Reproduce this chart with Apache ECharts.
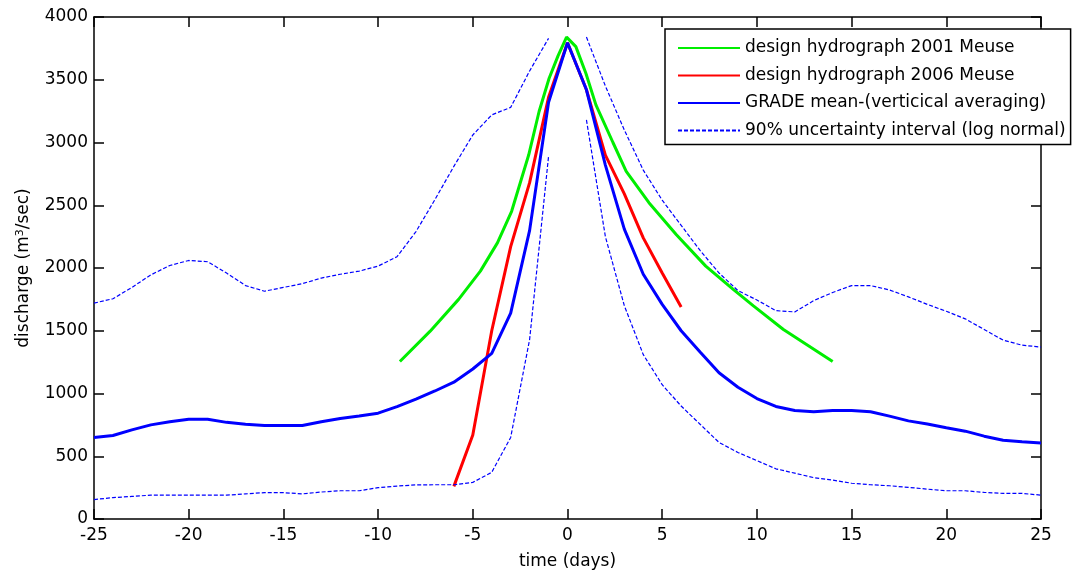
<!DOCTYPE html>
<html>
<head>
<meta charset="utf-8">
<script src="https://cdn.jsdelivr.net/npm/echarts@6/dist/echarts.min.js"></script>
<style>html,body{margin:0;padding:0;background:#fff}#c{width:1075px;height:575px}</style>
</head>
<body>
<div id="c"></div>
<script>
// ---- data ----
var days = [-25,-24,-23,-22,-21,-20,-19,-18,-17,-16,-15,-14,-13,-12,-11,-10,-9,-8,-7,-6,-5,-4,-3,-2,-1,0,1,2,3,4,5,6,7,8,9,10,11,12,13,14,15,16,17,18,19,20,21,22,23,24,25];
var gradeMean = [650,665,710,750,775,795,795,770,755,745,745,745,775,800,820,843,895,955,1020,1090,1195,1320,1640,2300,3320,3795,3420,2820,2310,1950,1710,1500,1330,1165,1050,960,897,865,855,865,865,855,820,782,757,727,700,660,627,615,605];
var upper90 = [1720,1755,1845,1945,2020,2060,2050,1960,1860,1815,1845,1875,1920,1950,1975,2015,2090,2290,2545,2810,3060,3220,3280,3570,3830,null,3840,3450,3100,2780,2540,2340,2140,1960,1820,1745,1660,1650,1740,1805,1860,1860,1825,1770,1710,1655,1595,1510,1425,1385,1370];
var lower90 = [155,170,180,190,190,190,190,190,200,210,210,200,215,225,225,250,262,272,273,273,292,372,650,1430,2890,null,3180,2250,1700,1310,1070,900,755,610,530,465,400,365,330,310,285,273,265,252,238,225,225,212,204,204,190];
var redDays = [-6,-5,-4,-3,-2,-1,0,1,2,3,4,5,6];
var red2006 = [260,670,1500,2170,2680,3360,3795,3420,2900,2590,2240,1960,1690];
var greenDays = [-8.85,-7.25,-5.75,-4.6,-3.7,-2.95,-2.05,-1.5,-0.97,-0.5,-0.05,0.44,0.97,1.5,2.4,3.1,4.3,5.75,7.3,8.75,9.8,11.4,14.0];
var green2001 = [1255,1497,1750,1975,2200,2452,2900,3247,3512,3690,3840,3764,3552,3300,3000,2770,2520,2265,2015,1830,1700,1510,1255];
var xTicks = {min:-25, max:25, step:5};
var yTicks = {min:0, max:4000, step:500};

function pairs(xs, ys){ return xs.map(function(x,i){ return [x, ys[i]]; }); }

var FONT = 'DejaVu Sans';
var chart = echarts.init(document.getElementById('c'), null, {renderer:'canvas'});
var axisLine = {show:true, onZero:false, lineStyle:{color:'#000', width:1.5}};
var tick = {show:true, inside:true, length:10, lineStyle:{color:'#000', width:1.5}};
var plain = function(v){ return String(v); };
chart.setOption({
  backgroundColor:'#fff',
  animation:false,
  grid:{left:94, right:34, top:17, bottom:55, containLabel:false},
  legend:{
    orient:'vertical', left:665, top:29,
    itemWidth:62, itemHeight:14, itemGap:7.5,
    padding:[9,5,4,12],
    backgroundColor:'#fff', borderColor:'#000', borderWidth:1.5,
    itemStyle:{opacity:0},
    textStyle:{fontFamily:FONT, fontSize:17, color:'#000', lineHeight:20},
    data:['design hydrograph 2001 Meuse','design hydrograph 2006 Meuse','GRADE mean-(verticical averaging)','90% uncertainty interval (log normal)']
  },
  xAxis:[{
    type:'value', position:'bottom', min:xTicks.min, max:xTicks.max, interval:xTicks.step,
    axisLine:axisLine, axisTick:tick, splitLine:{show:false},
    axisLabel:{fontFamily:FONT, fontSize:17, color:'#000', margin:8, formatter:plain},
    name:'time (days)', nameLocation:'middle', nameGap:34,
    nameTextStyle:{fontFamily:FONT, fontSize:17, color:'#000'}
  },{
    type:'value', position:'top', min:xTicks.min, max:xTicks.max, interval:xTicks.step,
    axisLine:axisLine, axisTick:tick, axisLabel:{show:false}, splitLine:{show:false}
  }],
  yAxis:[{
    type:'value', position:'left', min:yTicks.min, max:yTicks.max, interval:yTicks.step,
    axisLine:axisLine, axisTick:tick, splitLine:{show:false},
    axisLabel:{fontFamily:FONT, fontSize:17, color:'#000', margin:6, formatter:plain},
    name:'discharge (m{sup|3}/sec)', nameLocation:'middle', nameGap:62,
    nameTextStyle:{fontFamily:FONT, fontSize:17, color:'#000',
      rich:{sup:{fontFamily:FONT, fontSize:11, color:'#000', verticalAlign:'top', padding:[0,0,6,0]}}}
  },{
    type:'value', position:'right', min:yTicks.min, max:yTicks.max, interval:yTicks.step,
    axisLine:axisLine, axisTick:tick, axisLabel:{show:false}, splitLine:{show:false}
  }],
  series:[
    {name:'design hydrograph 2001 Meuse', type:'line', symbol:'none', data:pairs(greenDays, green2001),
     lineStyle:{color:'#00ee00', width:3}, itemStyle:{color:'#00ee00'}},
    {name:'design hydrograph 2006 Meuse', type:'line', symbol:'none', data:pairs(redDays, red2006),
     lineStyle:{color:'#ff0000', width:3}, itemStyle:{color:'#ff0000'}},
    {name:'GRADE mean-(verticical averaging)', type:'line', symbol:'none', data:pairs(days, gradeMean),
     lineStyle:{color:'#0000ff', width:3}, itemStyle:{color:'#0000ff'}},
    {name:'90% uncertainty interval (log normal)', type:'line', symbol:'none', data:pairs(days, upper90), connectNulls:false,
     lineStyle:{color:'#0000ff', width:1.2, type:[4,2]}, itemStyle:{color:'#0000ff'}},
    {name:'90% uncertainty interval (log normal)', type:'line', symbol:'none', data:pairs(days, lower90), connectNulls:false,
     lineStyle:{color:'#0000ff', width:1.2, type:[4,2]}, itemStyle:{color:'#0000ff'}}
  ]
});
</script>
</body>
</html>
